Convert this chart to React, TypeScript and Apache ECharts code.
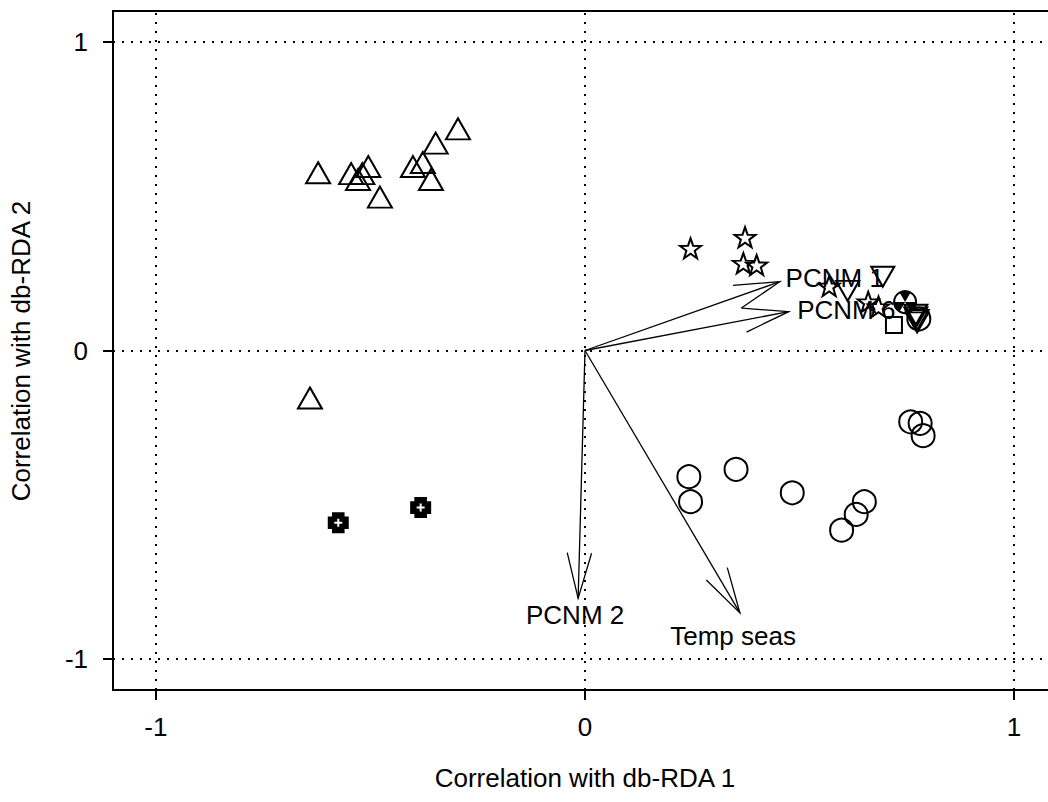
import React, { useEffect, useRef } from "react";
import * as echarts from "echarts";

const FONT = "'Liberation Sans', Arial, Helvetica, sans-serif";

// Axis ticks and reference (dotted) lines
const xTicks = [-1, 0, 1];
const yTicks = [-1, 0, 1];
const refLinesX = [-1, 0, 1];
const refLinesY = [-1, 0, 1];

// Open triangles
const triX = [-0.622, -0.545, -0.519, -0.505, -0.529, -0.478, -0.401, -0.378, -0.359, -0.348, -0.296, -0.641];
const triY = [0.576, 0.573, 0.573, 0.596, 0.554, 0.497, 0.596, 0.609, 0.554, 0.672, 0.718, -0.154];

// Filled crosses
const crossX = [-0.575, -0.383];
const crossY = [-0.558, -0.509];

// Open circles
const circX = [0.242, 0.246, 0.352, 0.483, 0.598, 0.632, 0.651, 0.759, 0.781, 0.788, 0.778];
const circY = [-0.409, -0.49, -0.385, -0.461, -0.582, -0.531, -0.49, -0.231, -0.236, -0.276, 0.102];

// Stars
const starX = [0.246, 0.373, 0.369, 0.4, 0.569, 0.66, 0.684];
const starY = [0.331, 0.367, 0.283, 0.277, 0.209, 0.158, 0.142];

// Inverted triangles
const invX = [0.694, 0.612, 0.771, 0.771, 0.774, 0.774];
const invY = [0.239, 0.193, 0.116, 0.107, 0.099, 0.091];

// Squares
const sqX = [0.72];
const sqY = [0.083];

// Radiation-like symbol
const radX = [0.746];
const radY = [0.157];

// Biplot arrows (from origin) and their labels
const arrowNames = ["PCNM 2", "Temp seas", "PCNM 1", "PCNM 6"];
const arrowX = [-0.016, 0.361, 0.454, 0.475];
const arrowY = [-0.803, -0.85, 0.223, 0.126];
const labelX = [-0.023, 0.345, 0.582, 0.609];
const labelY = [-0.857, -0.925, 0.235, 0.131];

const zip = (a: number[], b: number[]) => a.map((v, i) => [v, b[i]]);

const STAR = "path://M10,0 L12.35,6.76 L19.51,6.91 L13.8,11.24 L15.88,18.09 L10,14 L4.12,18.09 L6.2,11.24 L0.49,6.91 L7.65,6.76 Z";
const FATPLUS = "path://M4,0 H16 V4 H20 V16 H16 V20 H4 V16 H0 V4 H4 Z";
const THINPLUS = "path://M3,0 H5 V3 H8 V5 H5 V8 H3 V5 H0 V3 H3 Z";

const openStyle = { color: "rgba(0,0,0,0)", borderColor: "#000", borderWidth: 2, opacity: 1 };

const GRID = { left: 113, top: 11, width: 944, height: 679 };

export default function App() {
  const ref = useRef<HTMLDivElement>(null);
  useEffect(() => {
    if (!ref.current) return;
    const chart = echarts.init(ref.current, undefined, { renderer: "svg" });
    const L = GRID.left, T = GRID.top, R = GRID.left + GRID.width, B = GRID.top + GRID.height;
    const boxStyle = { stroke: "#000", lineWidth: 2 };
    const option: any = {
      animation: false,
      backgroundColor: "#fff",
      grid: {
        ...GRID,
        containLabel: false,
        outerBoundsMode: "none",
        show: false,
      },
      xAxis: {
        type: "value",
        min: -1.1,
        max: 1.1,
        axisLine: { show: false, onZero: false },
        splitLine: { show: false },
        axisTick: { show: true, customValues: xTicks, length: 10, inside: false, lineStyle: { color: "#000", width: 2 } },
        axisLabel: { customValues: xTicks, color: "#000", fontSize: 26, fontFamily: FONT, margin: 24 },
      },
      yAxis: {
        type: "value",
        min: -1.1,
        max: 1.1,
        axisLine: { show: false, onZero: false },
        splitLine: { show: false },
        axisTick: { show: true, customValues: yTicks, length: 10, inside: false, lineStyle: { color: "#000", width: 2 } },
        axisLabel: { customValues: yTicks, color: "#000", fontSize: 26, fontFamily: FONT, margin: 25 },
      },
      graphic: [
        { type: "line", z: 10, silent: true, shape: { x1: L, y1: T, x2: R, y2: T }, style: boxStyle },
        { type: "line", z: 10, silent: true, shape: { x1: L, y1: B, x2: R, y2: B }, style: boxStyle },
        { type: "line", z: 10, silent: true, shape: { x1: L, y1: T - 1, x2: L, y2: B + 1 }, style: boxStyle },
        {
          type: "text",
          x: 585,
          y: 778,
          style: { text: "Correlation with db-RDA 1", font: `26px ${FONT}`, fill: "#000", textAlign: "center", textVerticalAlign: "middle" },
        },
        {
          type: "text",
          x: 21,
          y: 351,
          rotation: Math.PI / 2,
          style: { text: "Correlation with db-RDA 2", font: `26px ${FONT}`, fill: "#000", textAlign: "center", textVerticalAlign: "middle" },
        },
      ],
      series: [
        {
          type: "scatter",
          data: [],
          z: 1,
          silent: true,
          markLine: {
            silent: true,
            symbol: "none",
            label: { show: false },
            lineStyle: { color: "#000", width: 2, type: [2, 7] },
            data: [
              ...refLinesX.map((v) => ({ xAxis: v })),
              ...refLinesY.map((v) => ({ yAxis: v })),
            ],
          },
        },
        { type: "scatter", z: 2, symbol: "triangle", symbolSize: [24, 21], itemStyle: openStyle, data: zip(triX, triY) },
        { type: "scatter", z: 2, symbol: FATPLUS, symbolSize: 21, itemStyle: { color: "#000", opacity: 1 }, data: zip(crossX, crossY) },
        { type: "scatter", z: 3, symbol: THINPLUS, symbolSize: 8, itemStyle: { color: "#fff", opacity: 1 }, data: zip(crossX, crossY) },
        { type: "scatter", z: 2, symbol: "circle", symbolSize: 23, itemStyle: openStyle, data: zip(circX, circY) },
        { type: "scatter", z: 2, symbol: STAR, symbolSize: [21, 20], itemStyle: openStyle, data: zip(starX, starY) },
        { type: "scatter", z: 2, symbol: "triangle", symbolRotate: 180, symbolSize: [23, 20], itemStyle: openStyle, data: zip(invX, invY) },
        { type: "scatter", z: 2, symbol: "rect", symbolSize: 16, itemStyle: openStyle, data: zip(sqX, sqY) },
        {
          type: "custom",
          z: 2,
          clip: false,
          data: zip(radX, radY),
          renderItem: (params: any, api: any) => {
            const p = api.coord([api.value(0), api.value(1)]);
            const r = 11;
            const sectors = [-Math.PI / 2, Math.PI / 6, (5 * Math.PI) / 6].map((c) => ({
              type: "sector",
              shape: { cx: p[0], cy: p[1], r0: 0, r, startAngle: c - Math.PI / 6, endAngle: c + Math.PI / 6 },
              style: { fill: "#000" },
            }));
            return {
              type: "group",
              children: [
                { type: "circle", shape: { cx: p[0], cy: p[1], r }, style: { fill: "none", stroke: "#000", lineWidth: 2 } },
                ...sectors,
              ],
            };
          },
        },
        {
          type: "custom",
          z: 4,
          clip: false,
          data: zip(arrowX, arrowY),
          renderItem: (params: any, api: any) => {
            const o = api.coord([0, 0]);
            const t = api.coord([api.value(0), api.value(1)]);
            const ang = Math.atan2(o[1] - t[1], o[0] - t[0]);
            const len = 47;
            const a = (15 * Math.PI) / 180;
            const h1 = [t[0] + len * Math.cos(ang + a), t[1] + len * Math.sin(ang + a)];
            const h2 = [t[0] + len * Math.cos(ang - a), t[1] + len * Math.sin(ang - a)];
            return {
              type: "group",
              children: [
                { type: "line", shape: { x1: o[0], y1: o[1], x2: t[0], y2: t[1] }, style: { stroke: "#000", lineWidth: 1.3 } },
                { type: "polyline", shape: { points: [h1, t, h2] }, style: { stroke: "#000", fill: "none", lineWidth: 1.3 } },
              ],
            };
          },
        },
        {
          type: "scatter",
          z: 5,
          symbol: "circle",
          symbolSize: 1,
          itemStyle: { color: "rgba(0,0,0,0)", opacity: 1 },
          label: { show: true, position: "inside", formatter: "{b}", color: "#000", opacity: 1, fontSize: 26, fontFamily: FONT },
          data: arrowNames.map((n, i) => ({ name: n, value: [labelX[i], labelY[i]] })),
        },
      ],
    };
    chart.setOption(option);
    return () => chart.dispose();
  }, []);
  return (
    <div style={{ position: "fixed", left: 0, top: 0, width: 1048, height: 802, overflow: "hidden", background: "#fff" }}>
      <div ref={ref} style={{ width: 1100, height: 802 }} />
    </div>
  );
}
